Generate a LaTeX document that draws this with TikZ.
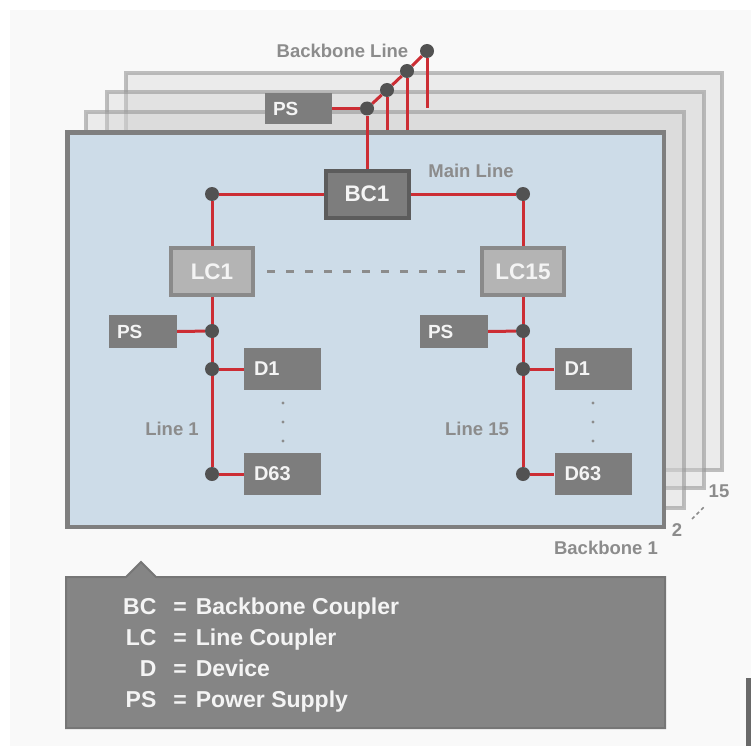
\documentclass[tikz,border=0pt]{standalone}
\usepackage{fontspec}
\setmainfont{Liberation Sans}
\definecolor{redline}{RGB}{204,45,52}
\definecolor{dotc}{RGB}{82,82,82}
\definecolor{boxd}{RGB}{125,125,125}
\definecolor{bcborder}{RGB}{92,92,92}
\definecolor{lcfill}{RGB}{180,180,180}
\definecolor{lcborder}{RGB}{138,138,138}
\definecolor{mainfill}{RGB}{205,220,232}
\definecolor{mainborder}{RGB}{127,127,127}
\definecolor{labelc}{RGB}{140,140,140}
\definecolor{legfill}{RGB}{133,133,133}
\definecolor{legborder}{RGB}{118,118,118}
\definecolor{legtext}{RGB}{244,244,244}
\definecolor{pagebg}{RGB}{249,249,249}
\definecolor{layerfill}{RGB}{211,211,211}
\definecolor{layerborder}{RGB}{150,150,150}
\definecolor{fragment}{RGB}{105,105,105}
\pgfdeclarelayer{bg}
\pgfdeclarelayer{mid}
\pgfdeclarelayer{panel}
\pgfsetlayers{bg,mid,panel,main}
\begin{document}
\begin{tikzpicture}[x=1pt,y=-1pt,
  bus/.style={draw=redline, line width=3pt},
  junction/.style={circle, fill=dotc, inner sep=0pt, minimum size=14pt},
  devbox/.style={fill=boxd, text=legtext, font=\bfseries\fontsize{20}{20}\selectfont,
     minimum height=42pt, inner xsep=10pt, inner ysep=0pt, text width=57pt, align=left},
  psbox/.style={fill=boxd, text=legtext, font=\bfseries\fontsize{19}{19}\selectfont,
     minimum height=33pt, inner xsep=8pt, inner ysep=0pt, text width=52pt, align=left},
  bcbox/.style={fill=boxd, draw=bcborder, line width=4pt, text=legtext,
     font=\bfseries\fontsize{22.5}{22.5}\selectfont, minimum width=83pt, minimum height=47pt, inner sep=0pt},
  lcbox/.style={fill=lcfill, draw=lcborder, line width=4pt, text=legtext,
     font=\bfseries\fontsize{22.5}{22.5}\selectfont, minimum width=82pt, minimum height=47pt, inner sep=0pt},
  glabel/.style={text=labelc, font=\bfseries\fontsize{18.5}{18.5}\selectfont, inner sep=0pt},
  layerbox/.style={fill=layerfill, fill opacity=0.36, draw=layerborder, draw opacity=0.6, line width=4pt},
  dashline/.style={draw=labelc, line width=3pt, dash pattern=on 8pt off 11pt}
]
\useasboundingbox (0,0) rectangle (751,746);

\begin{pgfonlayer}{bg}
  \fill[white] (0,0) rectangle (751,746);
  \fill[pagebg] (10,10) rectangle (751,746);
  \draw[layerbox] (125.5,73) rectangle (722,470);
  \draw[layerbox] (107,92.5) rectangle (703.5,488);
  \draw[layerbox] (86,112) rectangle (684,508);
  \draw[fill=legfill, draw=legborder, line width=2pt]
    (66,577) -- (126,577) -- (141,562) -- (156,577) -- (665,577) -- (665,728) -- (66,728) -- cycle;
  \fill[fragment] (746,678) rectangle (751,746);
\end{pgfonlayer}

\begin{pgfonlayer}{panel}
  \draw[fill=mainfill, draw=mainborder, line width=4.5pt] (67.5,132.5) rectangle (664,527);
\end{pgfonlayer}

% backbone line
\node[psbox, minimum height=31pt, text width=51pt] (psT) at (298.5,108.5) {PS};
\node[junction] (bb1) at (367,108.5) {};
\node[junction] (bb2) at (387,90) {};
\node[junction] (bb3) at (407,71) {};
\node[junction] (bb4) at (427,51) {};
\coordinate (s2) at (387,131);
\coordinate (s3) at (407,131);
\coordinate (s4) at (427,108);

% main line
\node[bcbox] (bc1) at (367,194) {BC1};
\node[junction] (mlL) at (212,194) {};
\node[junction] (mlR) at (523,194) {};
\node[lcbox] (lc1) at (212,271.5) {LC1};
\node[lcbox] (lc15) at (523,271.5) {LC15};

% line 1
\node[psbox] (ps1) at (143,331.5) {PS};
\node[junction] (j1ps) at (212,331) {};
\node[junction] (j1d1) at (212,369) {};
\node[junction] (j1d63) at (212,474) {};
\node[devbox] (d1a) at (282.5,369) {D1};
\node[devbox] (d63a) at (282.5,474) {D63};

% line 15
\node[psbox] (ps15) at (454,331.5) {PS};
\node[junction] (j15ps) at (523,331) {};
\node[junction] (j15d1) at (523,369) {};
\node[junction] (j15d63) at (523,474) {};
\node[devbox] (d1b) at (593,369) {D1};
\node[devbox] (d63b) at (593,474) {D63};

% stubs behind the main panel
\begin{pgfonlayer}{mid}
  \draw[bus] (bb2) -- (s2);
  \draw[bus] (bb3) -- (s3);
  \draw[bus] (bb4) -- (s4);
\end{pgfonlayer}

% bus lines above the panel, below the nodes
\begin{pgfonlayer}{panel}
  \draw[bus] (psT.east) -- (bb1);
  \draw[bus] (bb1) -- (bb2) -- (bb3) -- (bb4);
  \draw[bus] (bb1) -- (bc1.north);
  \draw[bus] (bc1.west) -- (mlL);
  \draw[bus] (bc1.east) -- (mlR);
  \draw[bus] (mlL) -- (lc1.north);
  \draw[bus] (mlR) -- (lc15.north);
  \draw[bus] (lc1.south) -- (j1d63);
  \draw[bus] (lc15.south) -- (j15d63);
  \draw[bus] (ps1.east) -- (j1ps);
  \draw[bus] (j1d1) -- (d1a.west);
  \draw[bus] (j1d63) -- (d63a.west);
  \draw[bus] (ps15.east) -- (j15ps);
  \draw[bus] (j15d1) -- (d1b.west);
  \draw[bus] (j15d63) -- (d63b.west);
  \draw[dashline, shorten <=12pt, shorten >=12pt] (lc1.east) -- (lc15.west);
  \foreach \yy in {403,422,441} {
    \fill[labelc] (283,\yy) circle (1.6);
    \fill[labelc] (593,\yy) circle (1.6);
  }
  \draw[labelc, line width=1.6pt, dash pattern=on 3.5pt off 3pt] (692,519) -- (705,506);
\end{pgfonlayer}

% labels
\node[glabel] (lblBL) at (342.5,51) {Backbone Line};
\node[glabel] (lblML) at (471,171) {Main Line};
\node[glabel] (lblL1) at (172,429) {Line 1};
\node[glabel] (lblL15) at (477,429) {Line 15};
\node[glabel] (lblB1) at (606,548) {Backbone 1};
\node[glabel] (lbl2) at (677,530) {2};
\node[glabel] (lbl15) at (719,491) {15};

% legend
\node[anchor=base west, inner sep=0pt, text=legtext, font=\bfseries\fontsize{23}{31}\selectfont]
  (legend) at (123,614)
  {\begin{tabular}[t]{@{}r@{\hspace{17pt}}c@{\hspace{9pt}}l@{}}
   BC & = & Backbone Coupler\\
   LC & = & Line Coupler\\
   D & = & Device\\
   PS & = & Power Supply
   \end{tabular}};
\end{tikzpicture}
\end{document}
